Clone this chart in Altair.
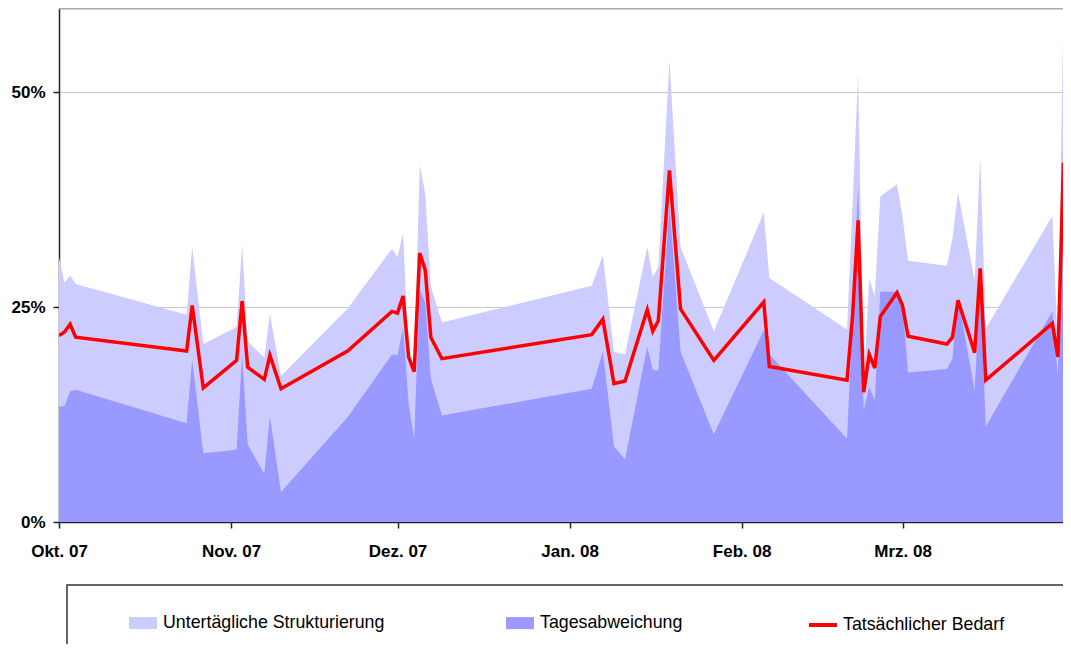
import altair as alt
import pandas as pd

# ---- data (values in %) ----
dates = [
    "2007-10-01", "2007-10-02", "2007-10-03", "2007-10-04", "2007-10-24", "2007-10-25",
    "2007-10-27", "2007-11-02", "2007-11-03", "2007-11-04", "2007-11-07", "2007-11-08",
    "2007-11-10", "2007-11-22", "2007-11-30", "2007-12-01", "2007-12-02", "2007-12-03",
    "2007-12-04", "2007-12-05", "2007-12-06", "2007-12-07", "2007-12-09", "2008-01-05",
    "2008-01-07", "2008-01-09", "2008-01-11", "2008-01-15", "2008-01-16", "2008-01-17",
    "2008-01-19", "2008-01-21", "2008-01-27", "2008-02-05", "2008-02-06", "2008-02-20",
    "2008-02-21", "2008-02-22", "2008-02-23", "2008-02-24", "2008-02-25", "2008-02-26",
    "2008-02-29", "2008-03-01", "2008-03-02", "2008-03-09", "2008-03-10", "2008-03-11",
    "2008-03-14", "2008-03-15", "2008-03-16", "2008-03-28", "2008-03-29", "2008-03-30",
]

# upper edge of the light band (Tagesabweichung + Untertägliche Strukturierung)
untertaegliche_strukturierung = [
    30.8, 27.8, 28.7, 27.7, 24.1, 32.0,
    20.7, 22.7, 32.2, 21.0, 19.1, 24.2,
    17.0, 24.8, 31.8, 30.8, 33.6, 19.8,
    18.0, 41.5, 38.2, 27.4, 23.2, 27.5,
    31.0, 19.8, 19.5, 32.0, 28.5, 29.7,
    53.7, 32.0, 22.2, 36.0, 28.4, 22.4,
    37.0, 52.2, 16.0, 28.3, 26.3, 37.9,
    39.3, 35.5, 30.4, 29.8, 33.0, 38.3,
    28.1, 42.5, 22.5, 35.6, 20.0, 60.0,
]

tagesabweichung = [
    13.4, 13.5, 15.2, 15.4, 11.5, 18.9,
    8.0, 8.4, 19.5, 9.0, 5.6, 12.3,
    3.5, 12.2, 19.5, 19.4, 22.6, 13.8,
    9.7, 27.1, 25.5, 16.7, 12.4, 15.5,
    19.8, 8.8, 7.3, 20.4, 17.7, 17.6,
    37.0, 19.8, 10.2, 22.3, 19.5, 9.7,
    24.0, 39.4, 13.0, 15.7, 14.2, 26.8,
    26.8, 25.2, 17.4, 17.8, 19.0, 26.0,
    15.3, 28.0, 11.1, 24.5, 16.9, 46.0,
]

tatsaechlicher_bedarf = [
    21.7, 22.1, 23.0, 21.5, 19.9, 25.2,
    15.6, 18.8, 25.7, 18.0, 16.6, 19.4,
    15.5, 19.9, 24.5, 24.3, 26.3, 19.2,
    17.5, 31.3, 29.3, 21.5, 19.0, 21.8,
    23.6, 16.1, 16.4, 24.7, 22.2, 23.4,
    40.9, 24.8, 18.8, 25.6, 18.1, 16.5,
    24.0, 35.1, 15.1, 19.5, 17.9, 23.9,
    26.7, 25.2, 21.6, 20.7, 21.5, 25.8,
    19.7, 29.5, 16.5, 23.1, 19.2, 41.8,
]

series_names = ["Untertägliche Strukturierung", "Tagesabweichung", "Tatsächlicher Bedarf"]
series_colors = ["#CCCCFF", "#9999FF", "#FF0000"]

month_labels = ["Jan.", "Feb.", "Mrz.", "Apr.", "Mai", "Jun.", "Jul.", "Aug.", "Sep.", "Okt.", "Nov.", "Dez."]
month_ticks = [(2007, 10), (2007, 11), (2007, 12), (2008, 1), (2008, 2), (2008, 3)]
y_ticks = [0, 25, 50]

# ---- tables ----
ts = [d + "T00:00:00" for d in dates]
df_light = pd.DataFrame({"date": ts, "value": untertaegliche_strukturierung, "area_series": series_names[0]})
df_dark = pd.DataFrame({"date": ts, "value": tagesabweichung, "area_series": series_names[1]})
df_line = pd.DataFrame({"date": ts, "value": tatsaechlicher_bedarf, "line_series": series_names[2]})
one = pd.DataFrame({"k": [0]})

W, H = 1004, 514
FONT = "Liberation Sans"

month_arr = "[" + ",".join("'%s'" % m for m in month_labels) + "]"
x_enc = alt.X(
    "date:T",
    scale=alt.Scale(domain=[alt.DateTime(year=2007, month=10, date=1),
                            alt.DateTime(year=2008, month=3, date=29, hours=22)], nice=False),
    axis=alt.Axis(
        values=[alt.DateTime(year=y, month=m, date=1) for y, m in month_ticks],
        labelExpr=month_arr + "[month(datum.value)] + ' ' + timeFormat(datum.value, '%y')",
        title=None, grid=False,
        domainColor="#222222", domainWidth=1.5,
        tickColor="#222222", tickWidth=1.5, tickSize=6,
        labelFont=FONT, labelFontSize=17, labelFontWeight="bold", labelColor="#000000",
        labelPadding=15, labelOverlap=False, labelFlush=False,
    ),
)
y_enc = alt.Y(
    "value:Q",
    scale=alt.Scale(domain=[0, 59.8], nice=False),
    axis=alt.Axis(
        values=y_ticks, labelExpr="datum.value + '%'", title=None,
        grid=True, gridColor="#c8c8c8", gridWidth=1,
        domainColor="#222222", domainWidth=1.5,
        tickColor="#222222", tickWidth=1.5, tickSize=6,
        labelFont=FONT, labelFontSize=17, labelFontWeight="bold", labelColor="#000000",
        labelPadding=8,
    ),
)

fill_scale = alt.Scale(domain=series_names[:2], range=series_colors[:2])
fill_legend = alt.Legend(
    title=None, orient="none", direction="horizontal", legendX=70, legendY=601,
    symbolType="M-1,-0.43H1V0.43H-1Z", symbolSize=784, symbolStrokeWidth=0, symbolOpacity=1,
    labelFont=FONT, labelFontSize=17.8, labelColor="#000000", labelOffset=6,
    columnPadding=121, padding=0, labelLimit=400,
)
stroke_scale = alt.Scale(domain=[series_names[2]], range=[series_colors[2]])
stroke_legend = alt.Legend(
    title=None, orient="none", direction="horizontal", legendX=748, legendY=601,
    symbolType="stroke", symbolSize=784, symbolStrokeWidth=4,
    labelFont=FONT, labelFontSize=17.8, labelColor="#000000", labelOffset=4,
    padding=0, labelLimit=400,
)

light = alt.Chart(df_light).mark_area(clip=True, opacity=1).encode(
    x=x_enc, y=y_enc,
    fill=alt.Fill("area_series:N", scale=fill_scale, legend=fill_legend),
)
dark = alt.Chart(df_dark).mark_area(clip=True, opacity=1).encode(
    x=x_enc, y=y_enc,
    fill=alt.Fill("area_series:N", scale=fill_scale, legend=fill_legend),
)
line = alt.Chart(df_line).mark_line(clip=True, strokeWidth=3.5).encode(
    x=x_enc, y=y_enc,
    stroke=alt.Stroke("line_series:N", scale=stroke_scale, legend=stroke_legend),
)
top_border = alt.Chart(one).mark_rule(color="#a8a8a8", strokeWidth=2).encode(
    x=alt.value(0), x2=alt.value(W), y=alt.value(0.5)
)
legend_frame = alt.Chart(one).mark_rect(
    fillOpacity=0, stroke="#333333", strokeWidth=1.5, clip=False
).encode(
    x=alt.value(8), x2=alt.value(W + 60), y=alt.value(577), y2=alt.value(H + 200)
)

chart = alt.layer(light, dark, line, top_border, legend_frame).properties(
    width=W, height=H,
    autosize=alt.AutoSizeParams(type="none"),
    padding={"left": 51, "top": 0, "right": 0, "bottom": 122},
    background="white",
).configure_view(stroke=None)

chart.save("out.html", embed_options={"renderer": "svg", "actions": False})
